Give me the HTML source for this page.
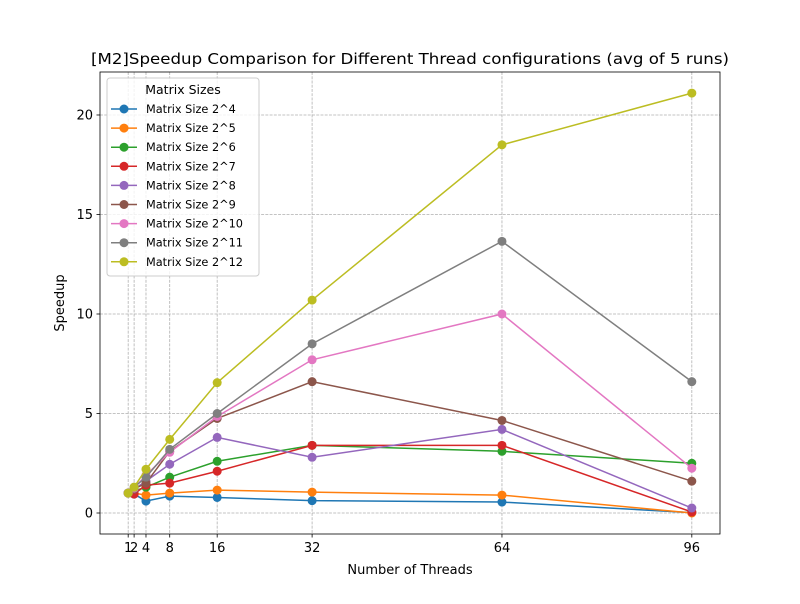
<!DOCTYPE html>
<html><head><meta charset="utf-8"><style>
body{margin:0;background:#fff;font-family:"DejaVu Sans","Liberation Sans",sans-serif}
text{font-family:"DejaVu Sans","Liberation Sans",sans-serif}
</style></head><body>
<svg id="c" width="800" height="600" xmlns="http://www.w3.org/2000/svg"></svg>
<script>
const threads=[1,2,4,8,16,32,64,96];
const xTicks=[1,2,4,8,16,32,64,96];
const yTicks=[0,5,10,15,20];
const seriesNames=["Matrix Size 2^4","Matrix Size 2^5","Matrix Size 2^6","Matrix Size 2^7","Matrix Size 2^8","Matrix Size 2^9","Matrix Size 2^10","Matrix Size 2^11","Matrix Size 2^12"];
const s4=[1,0.95,0.6,0.85,0.78,0.62,0.55,0.02];
const s5=[1,1,0.9,1.0,1.15,1.05,0.9,0];
const s6=[1,1.1,1.3,1.8,2.6,3.4,3.1,2.5];
const s7=[1,0.95,1.4,1.5,2.1,3.4,3.4,0.05];
const s8=[1,1.2,1.6,2.45,3.8,2.8,4.2,0.25];
const s9=[1,1.2,1.5,3.1,4.75,6.6,4.65,1.6];
const s10=[1,1.25,1.9,3.05,4.85,7.7,10.0,2.25];
const s11=[1,1.3,1.8,3.2,5.0,8.5,13.65,6.6];
const s12=[1,1.3,2.2,3.7,6.55,10.7,18.5,21.1];
const series=[s4,s5,s6,s7,s8,s9,s10,s11,s12];
const colors=["#1f77b4","#ff7f0e","#2ca02c","#d62728","#9467bd","#8c564b","#e377c2","#7f7f7f","#bcbd22"];
const L=100,R=720,T=72,B=534,xmin=-3.75,xmax=100.75,ymin=-1.055,ymax=22.16;
const X=v=>L+(v-xmin)/(xmax-xmin)*(R-L);
const Y=v=>B-(v-ymin)/(ymax-ymin)*(B-T);
const svg=document.getElementById('c');
const NS="http://www.w3.org/2000/svg";
function mk(t,a,p){const e=document.createElementNS(NS,t);for(const k in a)e.setAttribute(k,a[k]);(p||svg).appendChild(e);return e;}
xTicks.forEach(t=>{const g=mk('line',{x1:X(t),x2:X(t),y1:T,y2:B,stroke:'#b0b0b0','stroke-width':0.8,'stroke-dasharray':'2.96,1.28'});


const tk=mk('line',{x1:X(t),x2:X(t),y1:B,y2:B+3.5,stroke:'#000','stroke-width':0.8});


const tx=mk('text',{x:X(t),y:B+18,'text-anchor':'middle','font-size':13,fill:'#000'});tx.textContent=t;

});
yTicks.forEach(t=>{const g=mk('line',{x1:L,x2:R,y1:Y(t),y2:Y(t),stroke:'#b0b0b0','stroke-width':0.8,'stroke-dasharray':'2.96,1.28'});


const tk=mk('line',{x1:L-3.5,x2:L,y1:Y(t),y2:Y(t),stroke:'#000','stroke-width':0.8});


const tx=mk('text',{x:L-7,y:Y(t)+4.5,'text-anchor':'end','font-size':13,fill:'#000'});tx.textContent=t;

});
series.forEach((s,i)=>{const g=mk('g',{});


mk('polyline',{points:s.map((v,j)=>X(threads[j])+','+Y(v)).join(' '),fill:'none',stroke:colors[i],'stroke-width':1.5},g);
s.forEach((v,j)=>{const c=mk('circle',{cx:X(threads[j]),cy:Y(v),r:4.5,fill:colors[i]},g);

});});
const fr=mk('rect',{x:L,y:T,width:R-L,height:B-T,fill:'none',stroke:'#000','stroke-width':0.8});


const ti=mk('text',{x:(L+R)/2,y:T-8,'text-anchor':'middle','font-size':15.5,textLength:638,lengthAdjust:'spacingAndGlyphs'});ti.textContent='[M2]Speedup Comparison for Different Thread configurations (avg of 5 runs)';


const xl=mk('text',{x:(L+R)/2,y:574,'text-anchor':'middle','font-size':13});xl.textContent='Number of Threads';


const yl=mk('text',{x:0,y:0,'text-anchor':'middle','font-size':13,transform:`translate(64,${(T+B)/2}) rotate(-90)`});yl.textContent='Speedup';


const lg=mk('g',{});


mk('rect',{x:107,y:78,width:152,height:198,rx:3,fill:'#fff','fill-opacity':0.8,stroke:'#ccc','stroke-width':1},lg);
const lt=mk('text',{x:183,y:94,'text-anchor':'middle','font-size':12.5},lg);lt.textContent='Matrix Sizes';


seriesNames.forEach((n,i)=>{const y=109+i*19.1;const e=mk('g',{},lg);


mk('line',{x1:111,x2:137,y1:y,y2:y,stroke:colors[i],'stroke-width':1.5},e);
mk('circle',{cx:124,cy:y,r:4.5,fill:colors[i]},e);
const t=mk('text',{x:146,y:y+4,'font-size':11.3},e);t.textContent=n;});
</script>
</body></html>
